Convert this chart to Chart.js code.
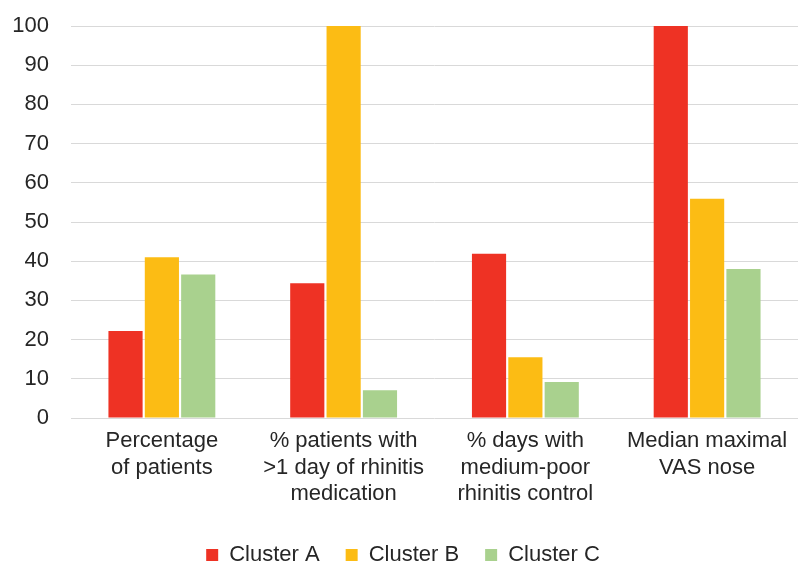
<!DOCTYPE html>
<html>
<head>
<meta charset="utf-8">
<script src="https://cdn.jsdelivr.net/npm/chart.js@4/dist/chart.umd.min.js"></script>
<style>
  html, body { margin: 0; padding: 0; background: #ffffff; }
  #wrap { width: 799px; height: 565px; }
</style>
</head>
<body>
<div id="wrap"><canvas id="chart" width="799" height="565"></canvas></div>
<script>
// Category labels (multi-line)
const categories = [
  ["Percentage", "of patients"],
  ["% patients with", ">1 day of rhinitis", "medication"],
  ["% days with", "medium-poor", "rhinitis control"],
  ["Median maximal", "VAS nose"]
];

// Series values per cluster
const clusterA = [22.2, 34.4, 41.9, 100];
const clusterB = [41.0, 100, 15.5, 55.9];
const clusterC = [36.6, 7.1, 9.2, 38.0];

const seriesNames = ["Cluster A", "Cluster B", "Cluster C"];
const seriesColors = ["#EE3224", "#FCBC14", "#A9D18E"];

// Y axis range and step
const yMin = 0;
const yMax = 100;
const yStep = 10;

const textColor = "#262626";
const fontFamily = "'Liberation Sans', Arial, Helvetica, sans-serif";

const ctx = document.getElementById("chart").getContext("2d");
new Chart(ctx, {
  type: "bar",
  data: {
    labels: categories,
    datasets: [clusterA, clusterB, clusterC].map((vals, i) => ({
      label: seriesNames[i],
      data: vals,
      backgroundColor: seriesColors[i],
      borderWidth: 0,
      categoryPercentage: 0.6,
      barPercentage: 0.94
    }))
  },
  options: {
    responsive: false,
    animation: false,
    layout: { padding: { left: 8, right: 1, top: 26, bottom: 0 } },
    plugins: {
      legend: {
        position: "bottom",
        maxHeight: 47,
        labels: {
          color: textColor,
          font: { family: fontFamily, size: 22 },
          boxWidth: 12,
          boxHeight: 12,
          padding: 26
        }
      },
      tooltip: { enabled: false }
    },
    scales: {
      x: {
        afterFit: (scale) => { scale.height = 100; },
        grid: { display: false, drawTicks: false },
        border: { display: false },
        ticks: {
          color: textColor,
          font: { family: fontFamily, size: 22, lineHeight: 1.2 },
          padding: 10,
          maxRotation: 0,
          autoSkip: false
        }
      },
      y: {
        min: yMin,
        max: yMax,
        afterFit: (scale) => { scale.width = 63; },
        grid: {
          color: "#D9D9D9",
          lineWidth: 1,
          drawTicks: true,
          tickLength: 22,
          tickColor: "rgba(0,0,0,0)"
        },
        border: { display: false },
        ticks: {
          stepSize: yStep,
          color: textColor,
          font: { family: fontFamily, size: 22 },
          padding: 0
        }
      }
    }
  }
});
</script>
</body>
</html>
